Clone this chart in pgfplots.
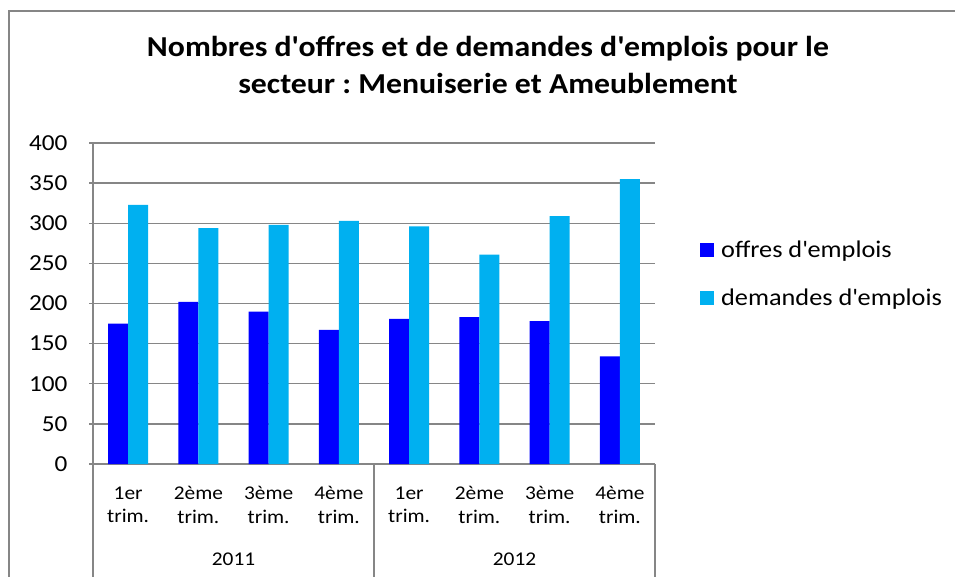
\documentclass[border=0pt]{standalone}
\usepackage{pgfplots}
\pgfplotsset{compat=1.18}
\usepackage{fontspec}
\setmainfont{Carlito}[FakeStretch=1.1]
\definecolor{offres}{HTML}{0000FF}
\definecolor{demandes}{HTML}{00B0F0}
\definecolor{gridgray}{HTML}{868686}
\begin{document}
\frenchspacing
\begin{tikzpicture}[x=1bp,y=1bp]
\useasboundingbox (0,0) rectangle (955,-577);
\fill[white] (0,0) rectangle (955,-577);
\draw[gridgray, line width=1.3bp] (9,-577) -- (9,-11) -- (955,-11);
\node[font=\fontsize{29}{38}\selectfont\bfseries, align=center] at (488,-65) {Nombres d\textquotesingle offres et de demandes d\textquotesingle emplois pour le\\secteur : Menuiserie et Ameublement};
\begin{axis}[
  at={(93bp,-464bp)}, anchor=south west,
  scale only axis, width=562bp, height=321bp,
  ymin=0, ymax=400, ytick={0,50,...,400},
  xmin=0.5, xmax=8.5,
  xtick={1,...,8},
  xticklabels={{1er\\trim.},{2ème\\trim.},{3ème\\trim.},{4ème\\trim.},{1er\\trim.},{2ème\\trim.},{3ème\\trim.},{4ème\\trim.}},
  xticklabel style={font=\fontsize{19.5}{23.5}\selectfont, align=center, yshift=-15bp},
  yticklabel style={font=\fontsize{23}{27}\selectfont, xshift=-18bp},
  /pgf/number format/assume math mode=true,
  ybar=0pt, bar width=20bp,
  axis lines*=left,
  axis line style={-, draw=gridgray, line width=1.3bp},
  x axis line style={-},
  y axis line style={-},
  xtick style={draw=none},
  ytick style={gridgray, line width=1.3bp},
  tick align=outside, major tick length=4bp,
  ymajorgrids, major grid style={gridgray, line width=1.3bp},
  legend style={at={(1.08,0.592)}, anchor=west, draw=none, fill=none,
    font=\fontsize{24}{28}\selectfont, row sep=25bp, inner sep=0pt,
    cells={anchor=west}},
  legend image code/.code={\fill[#1] (0bp,-7bp) rectangle (14bp,7bp); \path (19bp,0bp);},
  clip=false,
]
\addplot[fill=offres, draw=none] coordinates {(1,175) (2,202) (3,190) (4,167) (5,181) (6,183) (7,178) (8,134)};
\addplot[fill=demandes, draw=none] coordinates {(1,323) (2,294) (3,298) (4,303) (5,296) (6,261) (7,309) (8,355)};
\legend{offres d\textquotesingle emplois, demandes d\textquotesingle emplois}
\end{axis}
\draw[gridgray, line width=1.3bp] (93,-464) -- (93,-577) (374,-464) -- (374,-577) (655,-464) -- (655,-577);
\node[font=\fontsize{19.5}{23}\selectfont] at (233.5,-559.5) {2011};
\node[font=\fontsize{19.5}{23}\selectfont] at (514.5,-559.5) {2012};
\end{tikzpicture}
\end{document}
